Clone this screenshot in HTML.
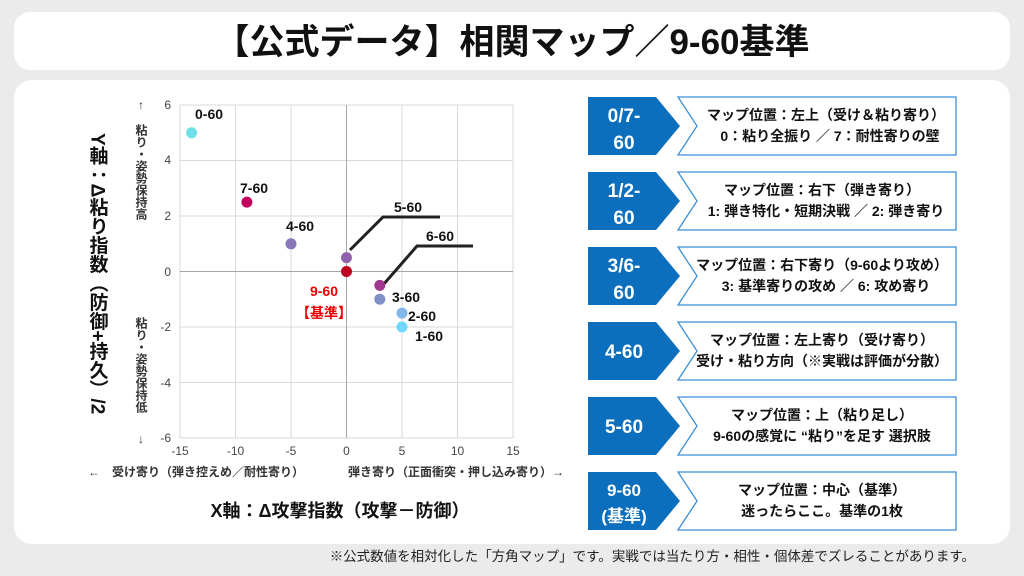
<!DOCTYPE html>
<html><head><meta charset="utf-8"><style>
body{margin:0;width:1024px;height:576px;overflow:hidden;background:#ebebeb}
svg{display:block}
text{font-family:"Liberation Sans","Noto Sans CJK JP",sans-serif}
</style></head><body>
<svg width="1024" height="576" viewBox="0 0 1024 576">
<rect x="0" y="0" width="1024" height="576" fill="#ebebeb"/>
<rect x="14" y="12" width="996" height="58" rx="16" fill="#fff"/>
<text x="512" y="54" text-anchor="middle" font-size="35" font-weight="bold" fill="#111">【公式データ】相関マップ／9-60基準</text>
<rect x="14" y="80" width="996" height="464" rx="18" fill="#fff"/>
<!-- grid -->
<g stroke="#d9d9d9" stroke-width="1">
<line x1="180" y1="105" x2="180" y2="438"/><line x1="235.5" y1="105" x2="235.5" y2="438"/><line x1="291" y1="105" x2="291" y2="438"/>
<line x1="402" y1="105" x2="402" y2="438"/><line x1="457.5" y1="105" x2="457.5" y2="438"/><line x1="513" y1="105" x2="513" y2="438"/>
<line x1="180" y1="105" x2="513" y2="105"/><line x1="180" y1="160.5" x2="513" y2="160.5"/><line x1="180" y1="216" x2="513" y2="216"/>
<line x1="180" y1="327" x2="513" y2="327"/><line x1="180" y1="382.5" x2="513" y2="382.5"/><line x1="180" y1="438" x2="513" y2="438"/>
</g>
<line x1="346.5" y1="105" x2="346.5" y2="438" stroke="#a6a6a6"/>
<line x1="180" y1="271.5" x2="513" y2="271.5" stroke="#a6a6a6"/>
<g font-size="12" fill="#444" text-anchor="end">
<text x="171" y="109">6</text><text x="171" y="164">4</text><text x="171" y="220">2</text><text x="171" y="276">0</text>
<text x="171" y="331">-2</text><text x="171" y="387">-4</text><text x="171" y="442">-6</text>
</g>
<g font-size="12" fill="#444" text-anchor="middle">
<text x="180" y="455">-15</text><text x="235.5" y="455">-10</text><text x="291" y="455">-5</text><text x="346.5" y="455">0</text>
<text x="402" y="455">5</text><text x="457.5" y="455">10</text><text x="513" y="455">15</text>
</g>
<polyline points="350,250 383,217 440,217" fill="none" stroke="#222" stroke-width="3"/>
<polyline points="383,285 417,246 473,246" fill="none" stroke="#222" stroke-width="3"/>
<circle cx="191.6" cy="132.8" r="5.5" fill="#6ee0e8"/>
<circle cx="246.9" cy="202.1" r="5.5" fill="#c0005a"/>
<circle cx="291" cy="243.8" r="5.5" fill="#8878b8"/>
<circle cx="346.5" cy="257.6" r="5.5" fill="#9060a8"/>
<circle cx="346.5" cy="271.5" r="5.5" fill="#c00020"/>
<circle cx="379.8" cy="285.4" r="5.5" fill="#a03890"/>
<circle cx="379.8" cy="299.2" r="5.5" fill="#8090c8"/>
<circle cx="402" cy="313.1" r="5.5" fill="#80b8e8"/>
<circle cx="402" cy="327" r="5.5" fill="#70d8ff"/>
<g font-size="14" font-weight="bold" fill="#111">
<text x="195" y="119">0-60</text><text x="240" y="193">7-60</text><text x="286" y="231">4-60</text>
<text x="394" y="212">5-60</text><text x="426" y="241">6-60</text><text x="392" y="302">3-60</text>
<text x="408" y="321">2-60</text><text x="415" y="341">1-60</text>
</g>
<text x="324" y="296" text-anchor="middle" font-size="14" font-weight="bold" fill="#e00">9-60</text>
<text x="324" y="318" text-anchor="middle" font-size="14" font-weight="bold" fill="#e00">【基準】</text>
<g font-size="12" font-weight="bold" fill="#333" text-anchor="middle">
<text x="141" y="109">↑</text>
<text x="141" y="443">↓</text>
</g>
<text font-size="12" font-weight="bold" fill="#333" writing-mode="tb" x="141" y="124">粘り・姿勢保持高</text>
<text font-size="12" font-weight="bold" fill="#333" writing-mode="tb" x="141" y="317">粘り・姿勢保持低</text>
<text font-size="19" font-weight="bold" fill="#111" writing-mode="tb" x="97" y="133">Y軸：Δ粘り指数（防御+持久）/2</text>
<text x="88" y="476" font-size="12" font-weight="bold" fill="#333">←　受け寄り（弾き控えめ／耐性寄り）</text>
<text x="348" y="476" font-size="12" font-weight="bold" fill="#333">弾き寄り（正面衝突・押し込み寄り）→</text>
<text x="340" y="517" text-anchor="middle" font-size="18" font-weight="bold" fill="#111">X軸：Δ攻撃指数（攻撃－防御）</text>
<g>
<g transform="translate(0,0)">
<polygon points="588,97 656,97 680,126 656,155 588,155" fill="#0b6fbd"/>
<polygon points="678,97 956,97 956,155 678,155 697,126" fill="#fff" stroke="#3d8fd6" stroke-width="1.3"/>
<text x="624" y="122" text-anchor="middle" font-size="19" font-weight="bold" fill="#fff">0/7-</text>
<text x="624" y="149" text-anchor="middle" font-size="19" font-weight="bold" fill="#fff">60</text>
<text x="826" y="120" text-anchor="middle" font-size="14" font-weight="bold" fill="#111">マップ位置：左上（受け＆粘り寄り）</text>
<text x="830" y="141" text-anchor="middle" font-size="14" font-weight="bold" fill="#111">0：粘り全振り ／ 7：耐性寄りの壁</text>
</g>
<g transform="translate(0,75)">
<polygon points="588,97 656,97 680,126 656,155 588,155" fill="#0b6fbd"/>
<polygon points="678,97 956,97 956,155 678,155 697,126" fill="#fff" stroke="#3d8fd6" stroke-width="1.3"/>
<text x="624" y="122" text-anchor="middle" font-size="19" font-weight="bold" fill="#fff">1/2-</text>
<text x="624" y="149" text-anchor="middle" font-size="19" font-weight="bold" fill="#fff">60</text>
<text x="822" y="120" text-anchor="middle" font-size="14" font-weight="bold" fill="#111">マップ位置：右下（弾き寄り）</text>
<text x="826" y="141" text-anchor="middle" font-size="14" font-weight="bold" fill="#111">1: 弾き特化・短期決戦 ／ 2: 弾き寄り</text>
</g>
<g transform="translate(0,150)">
<polygon points="588,97 656,97 680,126 656,155 588,155" fill="#0b6fbd"/>
<polygon points="678,97 956,97 956,155 678,155 697,126" fill="#fff" stroke="#3d8fd6" stroke-width="1.3"/>
<text x="624" y="122" text-anchor="middle" font-size="19" font-weight="bold" fill="#fff">3/6-</text>
<text x="624" y="149" text-anchor="middle" font-size="19" font-weight="bold" fill="#fff">60</text>
<text x="822" y="120" text-anchor="middle" font-size="14" font-weight="bold" fill="#111">マップ位置：右下寄り（9-60より攻め）</text>
<text x="826" y="141" text-anchor="middle" font-size="14" font-weight="bold" fill="#111">3: 基準寄りの攻め ／ 6: 攻め寄り</text>
</g>
<g transform="translate(0,225)">
<polygon points="588,97 656,97 680,126 656,155 588,155" fill="#0b6fbd"/>
<polygon points="678,97 956,97 956,155 678,155 697,126" fill="#fff" stroke="#3d8fd6" stroke-width="1.3"/>
<text x="624" y="133" text-anchor="middle" font-size="19" font-weight="bold" fill="#fff">4-60</text>
<text x="822" y="120" text-anchor="middle" font-size="14" font-weight="bold" fill="#111">マップ位置：左上寄り（受け寄り）</text>
<text x="822" y="141" text-anchor="middle" font-size="14" font-weight="bold" fill="#111">受け・粘り方向（※実戦は評価が分散）</text>
</g>
<g transform="translate(0,300)">
<polygon points="588,97 656,97 680,126 656,155 588,155" fill="#0b6fbd"/>
<polygon points="678,97 956,97 956,155 678,155 697,126" fill="#fff" stroke="#3d8fd6" stroke-width="1.3"/>
<text x="624" y="133" text-anchor="middle" font-size="19" font-weight="bold" fill="#fff">5-60</text>
<text x="822" y="120" text-anchor="middle" font-size="14" font-weight="bold" fill="#111">マップ位置：上（粘り足し）</text>
<text x="822" y="141" text-anchor="middle" font-size="14" font-weight="bold" fill="#111">9-60の感覚に “粘り”を足す 選択肢</text>
</g>
<g transform="translate(0,375)">
<polygon points="588,97 656,97 680,126 656,155 588,155" fill="#0b6fbd"/>
<polygon points="678,97 956,97 956,155 678,155 697,126" fill="#fff" stroke="#3d8fd6" stroke-width="1.3"/>
<text x="624" y="121" text-anchor="middle" font-size="17" font-weight="bold" fill="#fff">9-60</text>
<text x="624" y="147" text-anchor="middle" font-size="17" font-weight="bold" fill="#fff">(基準)</text>
<text x="822" y="120" text-anchor="middle" font-size="14" font-weight="bold" fill="#111">マップ位置：中心（基準）</text>
<text x="822" y="141" text-anchor="middle" font-size="14" font-weight="bold" fill="#111">迷ったらここ。基準の1枚</text>
</g>
</g>
<text x="975" y="561" text-anchor="end" font-size="13.5" fill="#222">※公式数値を相対化した「方角マップ」です。実戦では当たり方・相性・個体差でズレることがあります。</text>
</svg>
</body></html>
